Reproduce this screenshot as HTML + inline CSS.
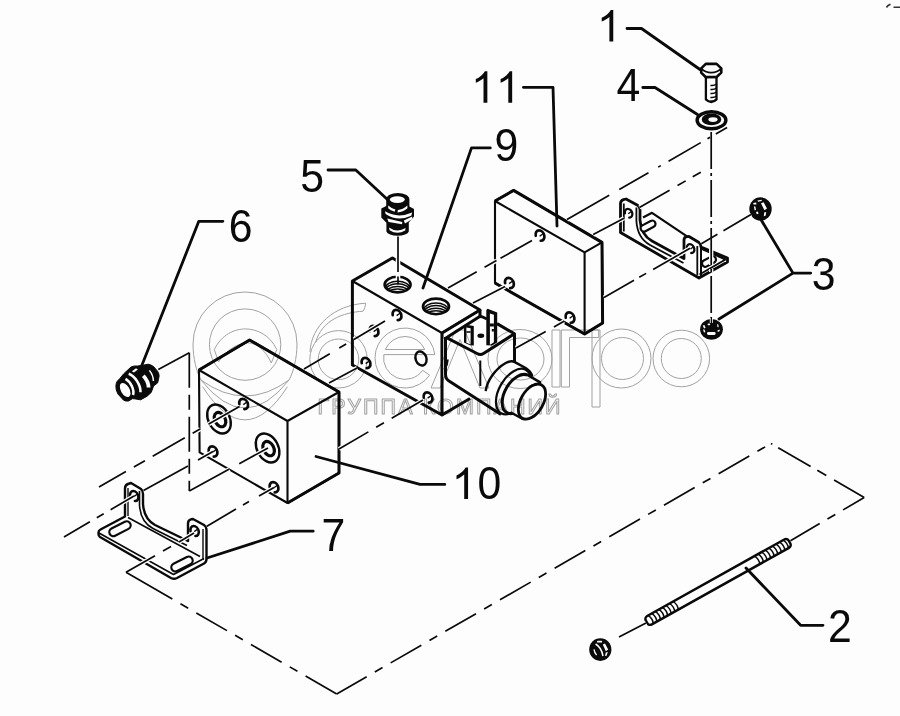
<!DOCTYPE html>
<html><head><meta charset="utf-8"><title>diagram</title>
<style>
html,body{margin:0;padding:0;background:#fdfdfc;}
body{width:900px;height:716px;overflow:hidden;font-family:"Liberation Sans",sans-serif;}
svg{display:block;filter:grayscale(1)}
</style></head><body>
<svg width="900" height="716" viewBox="0 0 900 716" stroke="#0a0a0a" stroke-linecap="butt" stroke-linejoin="round">
<rect x="0" y="0" width="900" height="716" fill="#fdfdfc" stroke="none"/>

<g id="plate11">
<path d="M495,201 L513.6,190.4 L602,242.4 L602.6,323 L584.6,334 L495,283 Z" stroke-width="2.1" fill="#fdfdfc" />
<path d="M495,201 L513.6,190.4 L602,242.4 L602.6,323 L584.6,334 L495,283" stroke-width="3.0" fill="none" />
<path d="M495,201 L584.6,252.4 L602,242.4 M584.6,252.4 V334" stroke-width="2.1" fill="none" />
<ellipse cx="540" cy="235.6" rx="4.1" ry="5.4" stroke-width="0" fill="#fdfdfc" transform="rotate(-28 540 235.6)" stroke="none"/>
<path d="M536.15,233.75 A4.1,5.4 0 1 1 538.27,240.49" stroke-width="2.7" fill="none" stroke-linecap="round" transform="rotate(-28 540 235.6)"/>
<path d="M539.40,236.00 L543.50,235.40" stroke-width="1.3" fill="none" transform="rotate(-28 540 235.6)"/>
<ellipse cx="509.4" cy="283" rx="4.1" ry="5.4" stroke-width="0" fill="#fdfdfc" transform="rotate(-28 509.4 283)" stroke="none"/>
<path d="M505.55,281.15 A4.1,5.4 0 1 1 507.67,287.89" stroke-width="2.7" fill="none" stroke-linecap="round" transform="rotate(-28 509.4 283)"/>
<path d="M508.80,283.40 L512.90,282.80" stroke-width="1.3" fill="none" transform="rotate(-28 509.4 283)"/>
<ellipse cx="570" cy="317.6" rx="4.1" ry="5.4" stroke-width="0" fill="#fdfdfc" transform="rotate(-28 570 317.6)" stroke="none"/>
<path d="M566.15,315.75 A4.1,5.4 0 1 1 568.27,322.49" stroke-width="2.7" fill="none" stroke-linecap="round" transform="rotate(-28 570 317.6)"/>
<path d="M569.40,318.00 L573.50,317.40" stroke-width="1.3" fill="none" transform="rotate(-28 570 317.6)"/>
</g>
<g id="brU">
<path d="M620.5,203.5 Q620.5,200.5 623.5,199.6 L626,199 L638,205.6 Q640,207 640,210 V220 Q641,235 652,241 L684,258.6 V240 Q684,237 687,236.6 L689,236.5 L699,242.5 Q701,244 701,247 L727.5,258 V262 L699,278 L620.5,232.5 Z" stroke-width="2.8" fill="#fdfdfc" />
<path d="M636.4,207.6 V221 Q637.4,238 650,245 L683.5,263" stroke-width="1.8" fill="none" />
<path d="M623.8,203.5 V231.5 M697.3,246 V275.5" stroke-width="1.8" fill="none" />
<path d="M643,217.5 L652,212.8 L687,236.4" stroke-width="2.2" fill="none" />
<path d="M701,248.5 L725.5,259.5 L699.5,274.5 M701,247 V276" stroke-width="2.0" fill="none" />
<g transform="rotate(-28 648 226)"><rect x="640" y="222.8" width="16" height="6.6" rx="3.3" stroke-width="2.2" fill="#fdfdfc"/></g>
<g transform="rotate(-28 709 261.5)"><rect x="701.5" y="258.2" width="15" height="6.6" rx="3.3" stroke-width="2.2" fill="#fdfdfc"/></g>
<ellipse cx="628.6" cy="213.2" rx="3.5" ry="4.6" stroke-width="0" fill="#fdfdfc" transform="rotate(-28 628.6 213.2)" stroke="none"/>
<path d="M625.31,211.63 A3.5,4.6 0 1 1 627.12,217.37" stroke-width="2.3" fill="none" stroke-linecap="round" transform="rotate(-28 628.6 213.2)"/>
<path d="M628.00,213.60 L631.50,213.00" stroke-width="1.3" fill="none" transform="rotate(-28 628.6 213.2)"/>
<ellipse cx="690.6" cy="248.6" rx="3.5" ry="4.6" stroke-width="0" fill="#fdfdfc" transform="rotate(-28 690.6 248.6)" stroke="none"/>
<path d="M687.31,247.03 A3.5,4.6 0 1 1 689.12,252.77" stroke-width="2.3" fill="none" stroke-linecap="round" transform="rotate(-28 690.6 248.6)"/>
<path d="M690.00,249.00 L693.50,248.40" stroke-width="1.3" fill="none" transform="rotate(-28 690.6 248.6)"/>
</g>
<g id="block9">
<path d="M352.4,281 L392.4,258 L480,310 L442,333 L442,415 L352.4,365 Z" stroke-width="3.0" fill="#fdfdfc" />
<path d="M352.4,281 L442,333 L480,310 M442,333 V415" stroke-width="2.1" fill="none" />
<path d="M480,310 V316.5" stroke-width="3.0" fill="none" />
<path d="M442,415 L470,398.5" stroke-width="3.0" fill="none" />
<clipPath id="hc0"><ellipse cx="397.6" cy="284.6" rx="12.6" ry="7.4"/></clipPath>
<ellipse cx="397.6" cy="284.6" rx="13.0" ry="7.8" stroke-width="2.6" fill="#fdfdfc" />
<g clip-path="url(#hc0)">
<path d="M385.2,288.6 A12.4,7.4 0 0 1 410.0,288.6" stroke-width="1.5" fill="none"/>
<path d="M385.2,291.2 A12.4,7.4 0 0 1 410.0,291.2" stroke-width="1.5" fill="none"/>
<path d="M385.2,293.8 A12.4,7.4 0 0 1 410.0,293.8" stroke-width="1.5" fill="none"/>
<path d="M385.2,296.4 A12.4,7.4 0 0 1 410.0,296.4" stroke-width="1.5" fill="none"/>
</g>
<clipPath id="hc1"><ellipse cx="436" cy="306.4" rx="12.6" ry="7.4"/></clipPath>
<ellipse cx="436" cy="306.4" rx="13.0" ry="7.8" stroke-width="2.6" fill="#fdfdfc" />
<g clip-path="url(#hc1)">
<path d="M423.6,310.4 A12.4,7.4 0 0 1 448.4,310.4" stroke-width="1.5" fill="none"/>
<path d="M423.6,313.0 A12.4,7.4 0 0 1 448.4,313.0" stroke-width="1.5" fill="none"/>
<path d="M423.6,315.6 A12.4,7.4 0 0 1 448.4,315.6" stroke-width="1.5" fill="none"/>
<path d="M423.6,318.2 A12.4,7.4 0 0 1 448.4,318.2" stroke-width="1.5" fill="none"/>
</g>
<ellipse cx="397" cy="315" rx="4.1" ry="5.4" stroke-width="0" fill="#fdfdfc" transform="rotate(-28 397 315)" stroke="none"/>
<path d="M393.15,313.15 A4.1,5.4 0 1 1 395.27,319.89" stroke-width="2.7" fill="none" stroke-linecap="round" transform="rotate(-28 397 315)"/>
<path d="M396.40,315.40 L400.50,314.80" stroke-width="1.3" fill="none" transform="rotate(-28 397 315)"/>
<ellipse cx="374" cy="331" rx="4.1" ry="5.4" stroke-width="0" fill="#fdfdfc" transform="rotate(-28 374 331)" stroke="none"/>
<path d="M370.15,329.15 A4.1,5.4 0 1 1 372.27,335.89" stroke-width="2.7" fill="none" stroke-linecap="round" transform="rotate(-28 374 331)"/>
<path d="M373.40,331.40 L377.50,330.80" stroke-width="1.3" fill="none" transform="rotate(-28 374 331)"/>
<ellipse cx="366" cy="363" rx="4.1" ry="5.4" stroke-width="0" fill="#fdfdfc" transform="rotate(-28 366 363)" stroke="none"/>
<path d="M362.15,361.15 A4.1,5.4 0 1 1 364.27,367.89" stroke-width="2.7" fill="none" stroke-linecap="round" transform="rotate(-28 366 363)"/>
<path d="M365.40,363.40 L369.50,362.80" stroke-width="1.3" fill="none" transform="rotate(-28 366 363)"/>
<ellipse cx="428" cy="397.5" rx="4.1" ry="5.4" stroke-width="0" fill="#fdfdfc" transform="rotate(-28 428 397.5)" stroke="none"/>
<path d="M424.15,395.65 A4.1,5.4 0 1 1 426.27,402.39" stroke-width="2.7" fill="none" stroke-linecap="round" transform="rotate(-28 428 397.5)"/>
<path d="M427.40,397.90 L431.50,397.30" stroke-width="1.3" fill="none" transform="rotate(-28 428 397.5)"/>
<ellipse cx="421" cy="358.5" rx="5.4" ry="7.2" stroke-width="2.4" fill="#fdfdfc" transform="rotate(-20 421 358.5)" />
</g>
<g id="coil">
<path d="M446,339 Q446,337 448,336 L479,317 L497,324 L514.5,334.5 V364 L534,378 L520,420 L501,414.5 L447,381 Q443.5,379 443.5,375 V339 Z" stroke-width="0" fill="#fdfdfc" stroke="none"/>
<path d="M446,338 L478.5,317.2 Q480.5,316 482.6,317 L487,319 M497,323.6 L514.4,333.8 L483.5,353.5 Q480.3,355.5 477,353.5 L446,337.3" stroke-width="3.0" fill="none" />
<path d="M445.5,337 V374 Q445.5,379 449,381 L501,414.5" stroke-width="3.0" fill="none" />
<path d="M514.5,334.2 V363" stroke-width="3.0" fill="none" />
<line x1="480.3" y1="360.5" x2="480.3" y2="386" stroke-width="2.0"/>
<path d="M444.5,369.5 q3,-5 3.2,-10" stroke-width="2.2" fill="none" />
<path d="M486.3,345.3 V310 L487.6,308.8 L497.2,312.6 V342.4 L492,345.6 Z" fill="#0a0a0a" stroke="none"/>
<path d="M489.9,313.4 L493.9,314.8 V342.4 L489.9,344.8 Z" fill="#fdfdfc" stroke="none"/>
<path d="M489.9,323.6 h4 v2.8 h-4 Z M491.8,329 h2.1 v2.4 h-2.1 Z" fill="#0a0a0a" stroke="none"/>
<path d="M464,342.6 V325.2 L465.2,324.6 L473.8,326 V345.4 L470,345.2 Z" fill="#0a0a0a" stroke="none"/>
<path d="M466.4,327.6 L470.6,328.2 V344.4 L466.4,342.8 Z" fill="#fdfdfc" stroke="none"/>
<path d="M466.4,331.2 h4.2 v1.6 h-4.2 Z" fill="#0a0a0a" stroke="none"/>
<ellipse cx="480.8" cy="335.7" rx="3.4" ry="2.2" stroke-width="0" fill="#0a0a0a" stroke="none"/>
</g>
<g id="cyl">
<path d="M485.7,391.1 C487,381 495,369 505.7,363 C509,361.3 512.5,360.8 514.8,362.1 L525.7,368 C529,370 531.5,373 532.3,376.5 L515,412 Z" stroke-width="0" fill="#fdfdfc" stroke="none"/>
<path d="M485.7,391.1 C487,381 495,369 505.7,363 C509,361.3 512.5,360.8 514.8,362.1 L525.7,368 C529,370 531.5,373 532.3,376.5" stroke-width="2.4" fill="none" />
<ellipse cx="513.6" cy="391.6" rx="14.4" ry="25.0" stroke-width="2.2" fill="#fdfdfc" transform="rotate(30 513.6 391.6)" />
<ellipse cx="517.4" cy="394.0" rx="12.5" ry="21.4" stroke-width="3.0" fill="#fdfdfc" transform="rotate(30 517.4 394.0)" />
<path d="M527.2,375.6 L542.2,384.4 L523.2,418.6 L508.4,410.6 Z" stroke-width="0" fill="#fdfdfc" stroke="none"/>
<path d="M527.0,374.6 L541.0,382.9 M510.4,412.2 L523.2,419.3" stroke-width="2.4" fill="none" />
<ellipse cx="532.0" cy="401.6" rx="11.2" ry="19.2" stroke-width="2.8" fill="#fdfdfc" transform="rotate(30 532.0 401.6)" />
<path d="M525.5,392 C528,386.5 532,383.8 537,384.6" stroke-width="1.2" fill="none" />
</g>
<g id="block10">
<path d="M199,370 L249.6,340 L339,392 L339,473 L287.5,503 L199.6,452.4 Z" stroke-width="2.1" fill="#fdfdfc" />
<path d="M199,370 L249.6,340 L339,392 L339,473 L287.5,503" stroke-width="3.0" fill="none" />
<path d="M199,370 L287.5,421 L339,392 M287.5,421 V503" stroke-width="2.1" fill="none" />
<ellipse cx="219" cy="419" rx="10.6" ry="15.4" stroke-width="2.4" fill="#fdfdfc" transform="rotate(-28 219 419)" />
<ellipse cx="220.0" cy="419.6" rx="5.2" ry="7.6" stroke-width="3.2" fill="#fdfdfc" transform="rotate(-28 220.0 419.6)" />
<ellipse cx="267.6" cy="448" rx="10.6" ry="15.4" stroke-width="2.4" fill="#fdfdfc" transform="rotate(-28 267.6 448)" />
<ellipse cx="268.6" cy="448.6" rx="5.2" ry="7.6" stroke-width="3.2" fill="#fdfdfc" transform="rotate(-28 268.6 448.6)" />
<ellipse cx="243.6" cy="404" rx="4.1" ry="5.4" stroke-width="0" fill="#fdfdfc" transform="rotate(-28 243.6 404)" stroke="none"/>
<path d="M239.75,402.15 A4.1,5.4 0 1 1 241.87,408.89" stroke-width="2.7" fill="none" stroke-linecap="round" transform="rotate(-28 243.6 404)"/>
<path d="M243.00,404.40 L247.10,403.80" stroke-width="1.3" fill="none" transform="rotate(-28 243.6 404)"/>
<ellipse cx="213" cy="451.5" rx="4.1" ry="5.4" stroke-width="0" fill="#fdfdfc" transform="rotate(-28 213 451.5)" stroke="none"/>
<path d="M209.15,449.65 A4.1,5.4 0 1 1 211.27,456.39" stroke-width="2.7" fill="none" stroke-linecap="round" transform="rotate(-28 213 451.5)"/>
<path d="M212.40,451.90 L216.50,451.30" stroke-width="1.3" fill="none" transform="rotate(-28 213 451.5)"/>
<ellipse cx="274" cy="487.3" rx="4.1" ry="5.4" stroke-width="0" fill="#fdfdfc" transform="rotate(-28 274 487.3)" stroke="none"/>
<path d="M270.15,485.45 A4.1,5.4 0 1 1 272.27,492.19" stroke-width="2.7" fill="none" stroke-linecap="round" transform="rotate(-28 274 487.3)"/>
<path d="M273.40,487.70 L277.50,487.10" stroke-width="1.3" fill="none" transform="rotate(-28 274 487.3)"/>
</g>
<g id="br7">
<path d="M125,488.5 Q125,485 128,484 L131,483 L141,489 Q143,490.5 143,494 V504 Q144,519 155,525 L188,541 V523.5 Q188,520 191,519.3 L193,519 L204,525 Q206.5,526.5 206.5,530 V559 Q206.5,562 204,563.5 L177,578 Q174,579.5 171,578 L100,537 Q98.5,536 98.5,534 V532.5 Q98.5,530.5 100.5,529.5 L125,516.5 Z" stroke-width="2.4" fill="#fdfdfc" />
<path d="M139.5,491 V505 Q140.5,522 153,528.5 L187,545.5" stroke-width="1.6" fill="none" />
<path d="M128,488 V516 M203,529 V560" stroke-width="1.4" fill="none" />
<path d="M99,533 L173.5,574.5 L204,558.5" stroke-width="1.6" fill="none" />
<path d="M128,517.5 L200,556.5" stroke-width="1.6" fill="none" />
<g transform="rotate(-27 120 528.7)"><rect x="108.5" y="524.7" width="23" height="8" rx="4" stroke-width="2.2" fill="#fdfdfc"/></g>
<g transform="rotate(-27 182 564)"><rect x="170.5" y="560" width="23" height="8" rx="4" stroke-width="2.2" fill="#fdfdfc"/></g>
<ellipse cx="134.2" cy="496" rx="3.9" ry="5.2" stroke-width="0" fill="#fdfdfc" transform="rotate(-28 134.2 496)" stroke="none"/>
<path d="M130.54,494.22 A3.9,5.2 0 1 1 132.55,500.71" stroke-width="2.6" fill="none" stroke-linecap="round" transform="rotate(-28 134.2 496)"/>
<path d="M133.60,496.40 L137.50,495.80" stroke-width="1.3" fill="none" transform="rotate(-28 134.2 496)"/>
<ellipse cx="194.6" cy="531" rx="3.9" ry="5.2" stroke-width="0" fill="#fdfdfc" transform="rotate(-28 194.6 531)" stroke="none"/>
<path d="M190.94,529.22 A3.9,5.2 0 1 1 192.95,535.71" stroke-width="2.6" fill="none" stroke-linecap="round" transform="rotate(-28 194.6 531)"/>
<path d="M194.00,531.40 L197.90,530.80" stroke-width="1.3" fill="none" transform="rotate(-28 194.6 531)"/>
</g>
<g id="fit5" stroke="none">
<path d="M386.2,199.5 A11.6,6.6 0 0 1 409.4,199.5 V206.5 L414,209 V216.5 L408.8,222.5 V231.5 A11.3,4.8 0 0 1 386.4,231.5 V222.8 L381.3,217.5 V208.6 L386.2,206 Z" fill="#0a0a0a"/>
<ellipse cx="397.3" cy="199.6" rx="7.5" ry="3.4" fill="#fdfdfc"/>
<path d="M388.2,205.6 Q391.5,208.6 395.4,209.6 L394.6,211.8 Q390.5,210.6 388.2,208.2 Z" fill="#fdfdfc"/>
<path d="M397.8,209.9 Q403,209.5 407.4,205.4 L407.4,208.2 Q403,212.2 397.6,212.4 Z" fill="#fdfdfc"/>
<path d="M385.0,211.3 Q397.7,218.8 412.2,212.5 L411.2,215.8 Q397.7,222.0 385.6,214.0 Z" fill="#fdfdfc"/>
<path d="M387.2,218.6 L402.4,222.0 L402.0,224.2 L388.6,222.0 Z" fill="#fdfdfc"/>
<path d="M403.8,220.6 L412.2,216.6 L412.0,219.2 L405.0,223.6 Z" fill="#fdfdfc"/>
<path d="M389.0,227.4 Q397,233.2 405.6,228.0 L405.2,230.6 Q397,235.2 389.6,230.2 Z" fill="#fdfdfc"/>
</g>
<line x1="398" y1="258.5" x2="398" y2="279.5" stroke="#fdfdfc" stroke-width="4.6"/>
<line x1="398.0" y1="236.5" x2="398.0" y2="272" stroke-width="1.7"/>
<line x1="398.0" y1="276.5" x2="398.0" y2="284.5" stroke-width="1.7"/>
<g id="plug6">
<path d="M120.4,378 L123.6,373.9 L131,367 Q134,365.6 137.4,366 L142,365.4 L148,364.2 Q151,364.6 153.6,366.6 L157.7,371.4 Q159.3,374 159.1,376.3 L157.7,382.8 L153.6,386 L151.2,392.5 L147.1,396.2 L140.7,399.8 L135.8,399 L132.6,398.6 L128.5,401 Q125.5,401.4 123.6,400.2 L118,394.1 Q115.6,390 115.9,386 Q116,383 117.2,381.2 Z" fill="#0a0a0a" stroke="#0a0a0a" stroke-width="1"/>
<ellipse cx="125.2" cy="390.0" rx="4.3" ry="7.7" transform="rotate(-30 125.2 390.0)" fill="#fdfdfc" stroke="none"/>
<path d="M125.5,378.9 A11,6.4 60 0 1 133,395" stroke="#fdfdfc" stroke-width="2.6" fill="none"/>
<path d="M128.7,373.7 A14,8 60 0 1 140.5,392.3" stroke="#fdfdfc" stroke-width="2.6" fill="none"/>
<path d="M131.9,371.3 L136,368.2 L137.8,369.6 L134,372.6 Z" fill="#fdfdfc" stroke="none"/>
<path d="M143.3,375.8 A12,7 60 0 1 148.6,387.5" stroke="#fdfdfc" stroke-width="3.8" fill="none"/>
<path d="M149.4,370.4 A12,7 60 0 1 153.4,381" stroke="#fdfdfc" stroke-width="1.5" fill="none"/>
</g>
<g id="bolt1">
<path d="M705.9,77 V99.4 Q711.2,104.6 716.5,99.4 V77 Z" stroke-width="2.3" fill="#fdfdfc" />
<path d="M710.4,85.4 Q714,86.0 716.5,84" stroke-width="1.5" fill="none" />
<path d="M710.4,89.4 Q714,90.0 716.5,88" stroke-width="1.5" fill="none" />
<path d="M710.4,93.4 Q714,94.0 716.5,92" stroke-width="1.5" fill="none" />
<path d="M710.4,97.4 Q714,98.0 716.5,96" stroke-width="1.5" fill="none" />
<path d="M710.4,101.0 Q714,101.6 716.5,99.6" stroke-width="1.5" fill="none" />
<path d="M701.2,68.4 L705.8,63.9 H716.6 L721.3,68.4 V72.6 L716.6,77 H705.6 L701.2,72.6 Z" stroke-width="2.6" fill="#fdfdfc" />
<path d="M701.2,68.4 Q705,72.6 711.2,72.6 Q717.5,72.6 721.3,68.4" stroke-width="1.7" fill="none" />
</g>
<g id="washer4">
<ellipse cx="711.5" cy="120.2" rx="14.4" ry="8.5" stroke-width="3.4" fill="#fdfdfc" />
<ellipse cx="711.5" cy="119.4" rx="8.6" ry="4.6" stroke-width="2.4" fill="#0a0a0a" />
<ellipse cx="713" cy="119.6" rx="4.6" ry="2.3" stroke-width="0" fill="#fdfdfc" stroke="none"/>
</g>
<g id="nuts" stroke="none">
<ellipse cx="760.5" cy="209" rx="11.2" ry="11.7" fill="#0a0a0a"/>
<path d="M761.0,203.2 L763.6,202.2 L767.0,208.4 L764.4,210.2 Z" fill="#fdfdfc"/>
<path d="M753.2,203 L756.2,202.6 L756.4,204.4 L753.6,204.6 Z" fill="#fdfdfc"/>
<path d="M753.9,206.6 L755.4,206.4 L756.0,210 L754.6,210.2 Z" fill="#fdfdfc"/>
<path d="M756,212 L757.8,211.6 L758.6,213.8 L756.8,214.2 Z" fill="#fdfdfc"/>
<path d="M764.2,212.6 L766.2,212 L765.6,215.8 L763.8,216.2 Z" fill="#fdfdfc"/>
<path d="M757.5,200.6 L761.5,199.8 L761.8,201 L758,201.8 Z" fill="#fdfdfc"/>
<ellipse cx="711.5" cy="329.3" rx="11.4" ry="10.4" fill="#0a0a0a"/>
<rect x="707" y="331.9" width="8.6" height="3.0" rx="1.4" fill="#fdfdfc"/>
<rect x="707.6" y="323.6" width="2.6" height="1.7" rx="0.8" fill="#fdfdfc"/>
<path d="M702.8,325.6 L704.4,325 L705.6,327.8 L704,328.4 Z" fill="#fdfdfc"/>
<path d="M703,329.6 L704.4,329.4 L705.4,332 L704,332.4 Z" fill="#fdfdfc"/>
<path d="M717.2,324 L718.4,324.4 L718.6,327.2 L717.4,327 Z" fill="#fdfdfc"/>
<path d="M717.4,330.6 L719.6,329.6 L719.8,331 L717.8,332 Z" fill="#fdfdfc"/>
<rect x="709.8" y="318.6" width="3" height="4.4" fill="#fdfdfc"/>
<rect x="710.7" y="317" width="1.3" height="6.4" fill="#0a0a0a"/>
<ellipse cx="600.3" cy="649.6" rx="11.1" ry="11.3" fill="#0a0a0a"/>
<rect x="597" y="640.8" width="5.2" height="1.8" rx="0.9" fill="#fdfdfc"/>
<path d="M595.6,644 Q601.5,647.5 603,656" stroke="#fdfdfc" stroke-width="1.5" fill="none"/>
<path d="M602.8,644.4 L605,643.6 L608.2,649.4 L605.8,651.2 Z" fill="#fdfdfc"/>
<path d="M605.8,652.6 L607.8,652 L606.6,655.8 L605,656 Z" fill="#fdfdfc"/>
<path d="M594,649.4 Q594.4,652.6 596.6,655" stroke="#fdfdfc" stroke-width="1.3" fill="none"/>
</g>
<g id="stud2">
<g transform="translate(648.3 620.9) rotate(-29.18)">
<rect x="-2" y="-4.8" width="163.8" height="9.6" rx="3.4" stroke-width="2.5" fill="#fdfdfc"/>
<path d="M2.5,-4.8 q2.4,4.8 0.6,9.6" stroke-width="1.5" fill="none"/>
<path d="M6.6,-4.8 q2.4,4.8 0.6,9.6" stroke-width="1.5" fill="none"/>
<path d="M10.7,-4.8 q2.4,4.8 0.6,9.6" stroke-width="1.5" fill="none"/>
<path d="M14.8,-4.8 q2.4,4.8 0.6,9.6" stroke-width="1.5" fill="none"/>
<path d="M18.9,-4.8 q2.4,4.8 0.6,9.6" stroke-width="1.5" fill="none"/>
<path d="M23.0,-4.8 q2.4,4.8 0.6,9.6" stroke-width="1.5" fill="none"/>
<path d="M27.1,-4.8 q2.4,4.8 0.6,9.6" stroke-width="1.5" fill="none"/>
<path d="M31.2,-4.8 q2.4,4.8 0.6,9.6" stroke-width="1.5" fill="none"/>
<path d="M157.3,-4.8 q2.4,4.8 0.6,9.6" stroke-width="1.5" fill="none"/>
<path d="M153.2,-4.8 q2.4,4.8 0.6,9.6" stroke-width="1.5" fill="none"/>
<path d="M149.1,-4.8 q2.4,4.8 0.6,9.6" stroke-width="1.5" fill="none"/>
<path d="M145.0,-4.8 q2.4,4.8 0.6,9.6" stroke-width="1.5" fill="none"/>
<path d="M140.9,-4.8 q2.4,4.8 0.6,9.6" stroke-width="1.5" fill="none"/>
<path d="M136.8,-4.8 q2.4,4.8 0.6,9.6" stroke-width="1.5" fill="none"/>
<path d="M132.7,-4.8 q2.4,4.8 0.6,9.6" stroke-width="1.5" fill="none"/>
<path d="M128.6,-4.8 q2.4,4.8 0.6,9.6" stroke-width="1.5" fill="none"/>
<path d="M124.5,-4.8 q2.4,4.8 0.6,9.6" stroke-width="1.5" fill="none"/>
</g></g>
<g id="centre" fill="none">
<line x1="126" y1="572.3" x2="336.7" y2="694" stroke="#fdfdfc" stroke-width="4.3" stroke-dasharray="53.5 9.4 8.9 9.4 35.4 9.4 8.9 9.4 35.4 9.4 8.9 9.4 40" stroke-dashoffset="0"/>
<line x1="336.7" y1="694" x2="771" y2="443.5" stroke="#fdfdfc" stroke-width="4.3" stroke-dasharray="35.4 9.4 8.9 9.4" stroke-dashoffset="0.8"/>
<line x1="771" y1="443.5" x2="864.2" y2="497.5" stroke="#fdfdfc" stroke-width="4.3" stroke-dasharray="1.5 6.8 37.5 7.7 10.4 9 40" stroke-dashoffset="0"/>
<line x1="864.2" y1="497.5" x2="790.5" y2="540.7" stroke="#fdfdfc" stroke-width="4.3" stroke-dasharray="24.5 9 9.1 9 40" stroke-dashoffset="0"/>
<line x1="126" y1="572.3" x2="155" y2="555.7" stroke="#fdfdfc" stroke-width="4.3"/>
<line x1="163" y1="551" x2="171" y2="546.5" stroke="#fdfdfc" stroke-width="4.3"/>
<line x1="179" y1="542" x2="194" y2="533" stroke="#fdfdfc" stroke-width="4.3"/>
<line x1="619" y1="637" x2="646" y2="623" stroke="#fdfdfc" stroke-width="4.3"/>
<line x1="158.3" y1="369.6" x2="189.3" y2="352.8" stroke="#fdfdfc" stroke-width="4.3"/>
<line x1="189.3" y1="352.8" x2="189.3" y2="491" stroke="#fdfdfc" stroke-width="4.3" stroke-dasharray="35 7 15 7" stroke-dashoffset="0"/>
<line x1="189.3" y1="491" x2="268" y2="448" stroke="#fdfdfc" stroke-width="4.3" stroke-dasharray="45.7 11.2 40" stroke-dashoffset="0"/>
<line x1="711.2" y1="132" x2="711.2" y2="318" stroke="#fdfdfc" stroke-width="4.3" stroke-dasharray="37 4 3 4" stroke-dashoffset="0"/>
<line x1="567" y1="219.6" x2="727.2" y2="127.4" stroke="#fdfdfc" stroke-width="4.3" stroke-dasharray="48.7 11.6 33.7 11.2 3 9 37.1 7.8 3 6.6 13" stroke-dashoffset="0"/>
<line x1="639.4" y1="207.5" x2="700.8" y2="172.2" stroke="#fdfdfc" stroke-width="4.3" stroke-dasharray="34.8 9.2 9.4 8.1 9.3" stroke-dashoffset="0"/>
<line x1="593.2" y1="234.6" x2="624" y2="218.2" stroke="#fdfdfc" stroke-width="4.3"/>
<line x1="751" y1="214.4" x2="701.3" y2="243.8" stroke="#fdfdfc" stroke-width="4.3" stroke-dasharray="32 7 20" stroke-dashoffset="0"/>
<line x1="690" y1="248.3" x2="604" y2="297.5" stroke="#fdfdfc" stroke-width="4.3" stroke-dasharray="42.5 8 8 6 40" stroke-dashoffset="0"/>
<line x1="448" y1="288" x2="532" y2="240.5" stroke="#fdfdfc" stroke-width="4.3" stroke-dasharray="33 9 13.7 4.6 40" stroke-dashoffset="0"/>
<line x1="473" y1="303" x2="505" y2="286.5" stroke="#fdfdfc" stroke-width="4.3"/>
<line x1="516" y1="348" x2="564" y2="321.3" stroke="#fdfdfc" stroke-width="4.3" stroke-dasharray="34 9.4 20" stroke-dashoffset="0"/>
<line x1="304" y1="369" x2="385" y2="321" stroke="#fdfdfc" stroke-width="4.3" stroke-dasharray="30 11 8 9 40" stroke-dashoffset="0"/>
<line x1="329" y1="383" x2="357" y2="368" stroke="#fdfdfc" stroke-width="4.3"/>
<line x1="339" y1="449" x2="423" y2="400" stroke="#fdfdfc" stroke-width="4.3" stroke-dasharray="34 9 9 9 40" stroke-dashoffset="0"/>
<line x1="99" y1="487" x2="239.5" y2="406.5" stroke="#fdfdfc" stroke-width="4.3" stroke-dasharray="31 9.2 12.7 9 37 9 8.6 10 40" stroke-dashoffset="0"/>
<line x1="64" y1="537" x2="134" y2="496" stroke="#fdfdfc" stroke-width="4.3" stroke-dasharray="30 8 8 8 40" stroke-dashoffset="0"/>
<line x1="143.5" y1="490.5" x2="188" y2="466" stroke="#fdfdfc" stroke-width="4.3"/>
<line x1="198" y1="460" x2="213" y2="451.5" stroke="#fdfdfc" stroke-width="4.3"/>
<line x1="206.5" y1="526.5" x2="236" y2="509" stroke="#fdfdfc" stroke-width="4.3"/>
<line x1="243" y1="505" x2="249" y2="501.6" stroke="#fdfdfc" stroke-width="4.3"/>
<line x1="259" y1="496" x2="274" y2="487.5" stroke="#fdfdfc" stroke-width="4.3"/>
<line x1="126" y1="572.3" x2="336.7" y2="694" stroke-width="1.7" stroke-dasharray="53.5 9.4 8.9 9.4 35.4 9.4 8.9 9.4 35.4 9.4 8.9 9.4 40" stroke-dashoffset="0"/>
<line x1="336.7" y1="694" x2="771" y2="443.5" stroke-width="1.7" stroke-dasharray="35.4 9.4 8.9 9.4" stroke-dashoffset="0.8"/>
<line x1="771" y1="443.5" x2="864.2" y2="497.5" stroke-width="1.7" stroke-dasharray="1.5 6.8 37.5 7.7 10.4 9 40" stroke-dashoffset="0"/>
<line x1="864.2" y1="497.5" x2="790.5" y2="540.7" stroke-width="1.7" stroke-dasharray="24.5 9 9.1 9 40" stroke-dashoffset="0"/>
<line x1="126" y1="572.3" x2="155" y2="555.7" stroke-width="1.7"/>
<line x1="163" y1="551" x2="171" y2="546.5" stroke-width="1.7"/>
<line x1="179" y1="542" x2="194" y2="533" stroke-width="1.7"/>
<line x1="619" y1="637" x2="646" y2="623" stroke-width="1.7"/>
<line x1="158.3" y1="369.6" x2="189.3" y2="352.8" stroke-width="1.7"/>
<line x1="189.3" y1="352.8" x2="189.3" y2="491" stroke-width="1.7" stroke-dasharray="35 7 15 7" stroke-dashoffset="0"/>
<line x1="189.3" y1="491" x2="268" y2="448" stroke-width="1.7" stroke-dasharray="45.7 11.2 40" stroke-dashoffset="0"/>
<line x1="711.2" y1="132" x2="711.2" y2="318" stroke-width="1.7" stroke-dasharray="37 4 3 4" stroke-dashoffset="0"/>
<line x1="567" y1="219.6" x2="727.2" y2="127.4" stroke-width="1.7" stroke-dasharray="48.7 11.6 33.7 11.2 3 9 37.1 7.8 3 6.6 13" stroke-dashoffset="0"/>
<line x1="639.4" y1="207.5" x2="700.8" y2="172.2" stroke-width="1.7" stroke-dasharray="34.8 9.2 9.4 8.1 9.3" stroke-dashoffset="0"/>
<line x1="593.2" y1="234.6" x2="624" y2="218.2" stroke-width="1.7"/>
<line x1="751" y1="214.4" x2="701.3" y2="243.8" stroke-width="1.7" stroke-dasharray="32 7 20" stroke-dashoffset="0"/>
<line x1="690" y1="248.3" x2="604" y2="297.5" stroke-width="1.7" stroke-dasharray="42.5 8 8 6 40" stroke-dashoffset="0"/>
<line x1="448" y1="288" x2="532" y2="240.5" stroke-width="1.7" stroke-dasharray="33 9 13.7 4.6 40" stroke-dashoffset="0"/>
<line x1="473" y1="303" x2="505" y2="286.5" stroke-width="1.7"/>
<line x1="516" y1="348" x2="564" y2="321.3" stroke-width="1.7" stroke-dasharray="34 9.4 20" stroke-dashoffset="0"/>
<line x1="304" y1="369" x2="385" y2="321" stroke-width="1.7" stroke-dasharray="30 11 8 9 40" stroke-dashoffset="0"/>
<line x1="329" y1="383" x2="357" y2="368" stroke-width="1.7"/>
<line x1="339" y1="449" x2="423" y2="400" stroke-width="1.7" stroke-dasharray="34 9 9 9 40" stroke-dashoffset="0"/>
<line x1="99" y1="487" x2="239.5" y2="406.5" stroke-width="1.7" stroke-dasharray="31 9.2 12.7 9 37 9 8.6 10 40" stroke-dashoffset="0"/>
<line x1="64" y1="537" x2="134" y2="496" stroke-width="1.7" stroke-dasharray="30 8 8 8 40" stroke-dashoffset="0"/>
<line x1="143.5" y1="490.5" x2="188" y2="466" stroke-width="1.7"/>
<line x1="198" y1="460" x2="213" y2="451.5" stroke-width="1.7"/>
<line x1="206.5" y1="526.5" x2="236" y2="509" stroke-width="1.7"/>
<line x1="243" y1="505" x2="249" y2="501.6" stroke-width="1.7"/>
<line x1="259" y1="496" x2="274" y2="487.5" stroke-width="1.7"/>
</g>
<g id="leaders" fill="none" stroke-width="2.8" stroke-linecap="round">
<path d="M627,28.5 H641.5 L700,69.5"/>
<path d="M642.8,87.5 H655 L697.5,114.5"/>
<path d="M810.7,273.1 H793 L760,218 M793,273.1 L719,319"/>
<path d="M523.4,87.3 H553 L557,226"/>
<path d="M490.3,147.9 H471.5 L423,288"/>
<path d="M328,170 H355.8 L388,200"/>
<path d="M222.9,221.3 H198.8 L141.6,366"/>
<path d="M444.8,484.4 H420 L316,456.5"/>
<path d="M313.2,531.2 H290.2 L207,558"/>
<path d="M823,625.3 H800.6 L746,568"/>
</g>
<g id="labels" font-family="Liberation Sans, sans-serif" font-size="46" fill="#0a0a0a" stroke="none">
<text transform="translate(616.4 101.2) scale(0.93 1)">4</text>
<text transform="translate(811.8 289.5) scale(0.93 1)">3</text>
<text transform="translate(494.5 161) scale(0.93 1)">9</text>
<text transform="translate(300.2 192.0) scale(0.93 1)">5</text>
<text transform="translate(228.8 242) scale(0.93 1)">6</text>
<text transform="translate(477.4 499.4) scale(0.93 1)">0</text>
<text transform="translate(321.5 550.6) scale(0.93 1)">7</text>
<text transform="translate(827.9 641.8) scale(0.93 1)">2</text>
</g>
<path transform="translate(596.93 41.5) scale(0.02140 -0.02140)" d="M763,0 H583 V1147 Q518,1085 412.5,1023 Q307,961 223,930 V1104 Q374,1175 487,1276 Q600,1377 647,1472 H763 Z" fill="#0a0a0a" stroke="none"/>
<path transform="translate(471.03 102.7) scale(0.02140 -0.02140)" d="M763,0 H583 V1147 Q518,1085 412.5,1023 Q307,961 223,930 V1104 Q374,1175 487,1276 Q600,1377 647,1472 H763 Z" fill="#0a0a0a" stroke="none"/>
<path transform="translate(495.83 102.7) scale(0.02140 -0.02140)" d="M763,0 H583 V1147 Q518,1085 412.5,1023 Q307,961 223,930 V1104 Q374,1175 487,1276 Q600,1377 647,1472 H763 Z" fill="#0a0a0a" stroke="none"/>
<path transform="translate(451.73 499.1) scale(0.02140 -0.02140)" d="M763,0 H583 V1147 Q518,1085 412.5,1023 Q307,961 223,930 V1104 Q374,1175 487,1276 Q600,1377 647,1472 H763 Z" fill="#0a0a0a" stroke="none"/>
<g id="wm" fill="none" stroke="#a3a3a3" stroke-width="1" style="mix-blend-mode:multiply">
<path d="M201,380 C196.5,372 193,358 193,344 A52,52 0 0 1 297,344 C297,358 293.5,372 289,380"/>
<circle cx="245.1" cy="344.6" r="35.7"/>
<path d="M214.3,349.5 C222,334 235,329 245.3,328.9 C257,329 270,335 276.8,349.5 L271.3,363 C266,351 257,343 248,342.8 C238,343 226,350 218.5,362 Z"/>
<path d="M201,380 Q245,412 289,380 M201,380 Q245,436 289,380 M202.6,386.7 Q245,453 287.4,386.7"/>
<circle cx="338.5" cy="359.3" r="28.7"/><circle cx="338.5" cy="359.3" r="20.3"/>
<path d="M310,352 C311,326 334,305 365.6,303.2 C365.4,306 364.6,309 363,311.2 C343,312.5 322,320 315.5,342.5"/>
<path d="M429.6,375.2 A30,30 0 1 1 434.8,354.6 L383.8,354.6 A21.5,21.5 0 0 0 422.6,370.3 Z"/>
<path d="M385.25,349.5 A21.5,21.5 0 0 1 424.75,349.5 Z"/>
<path d="M431,388 L455.5,330 H464.5 L489,388 H480 L460,339.5 L440,388 Z"/>
<ellipse cx="520" cy="359" rx="32" ry="29.5"/><ellipse cx="520.5" cy="359" rx="23.5" ry="21"/>
<path d="M552,330 H560 V387 H552 Z"/>
<path d="M561.3,330 H598.7 V337.5 H569.5 V387 H561.3 Z"/>
<path d="M592,330 H600 V407 H592 Z"/>
<circle cx="621.5" cy="358.5" r="29.5"/><circle cx="622.5" cy="358.5" r="21"/>
<circle cx="681.3" cy="358.5" r="28.3"/><circle cx="681.3" cy="358.5" r="20"/>
</g>
<text x="317.6" y="414" font-family="Liberation Sans, sans-serif" font-size="21.5" letter-spacing="2.1" fill="none" stroke="#a3a3a3" stroke-width="1" style="mix-blend-mode:multiply">ГРУППА КОМПАНИЙ</text>
<path d="M886.5,7.5 l1,-1.5 l1.5,-1 l1.5,-0.8 M893.5,7.2 h6.5" stroke-width="1.6" stroke="#333" fill="none"/>
</svg></body></html>
